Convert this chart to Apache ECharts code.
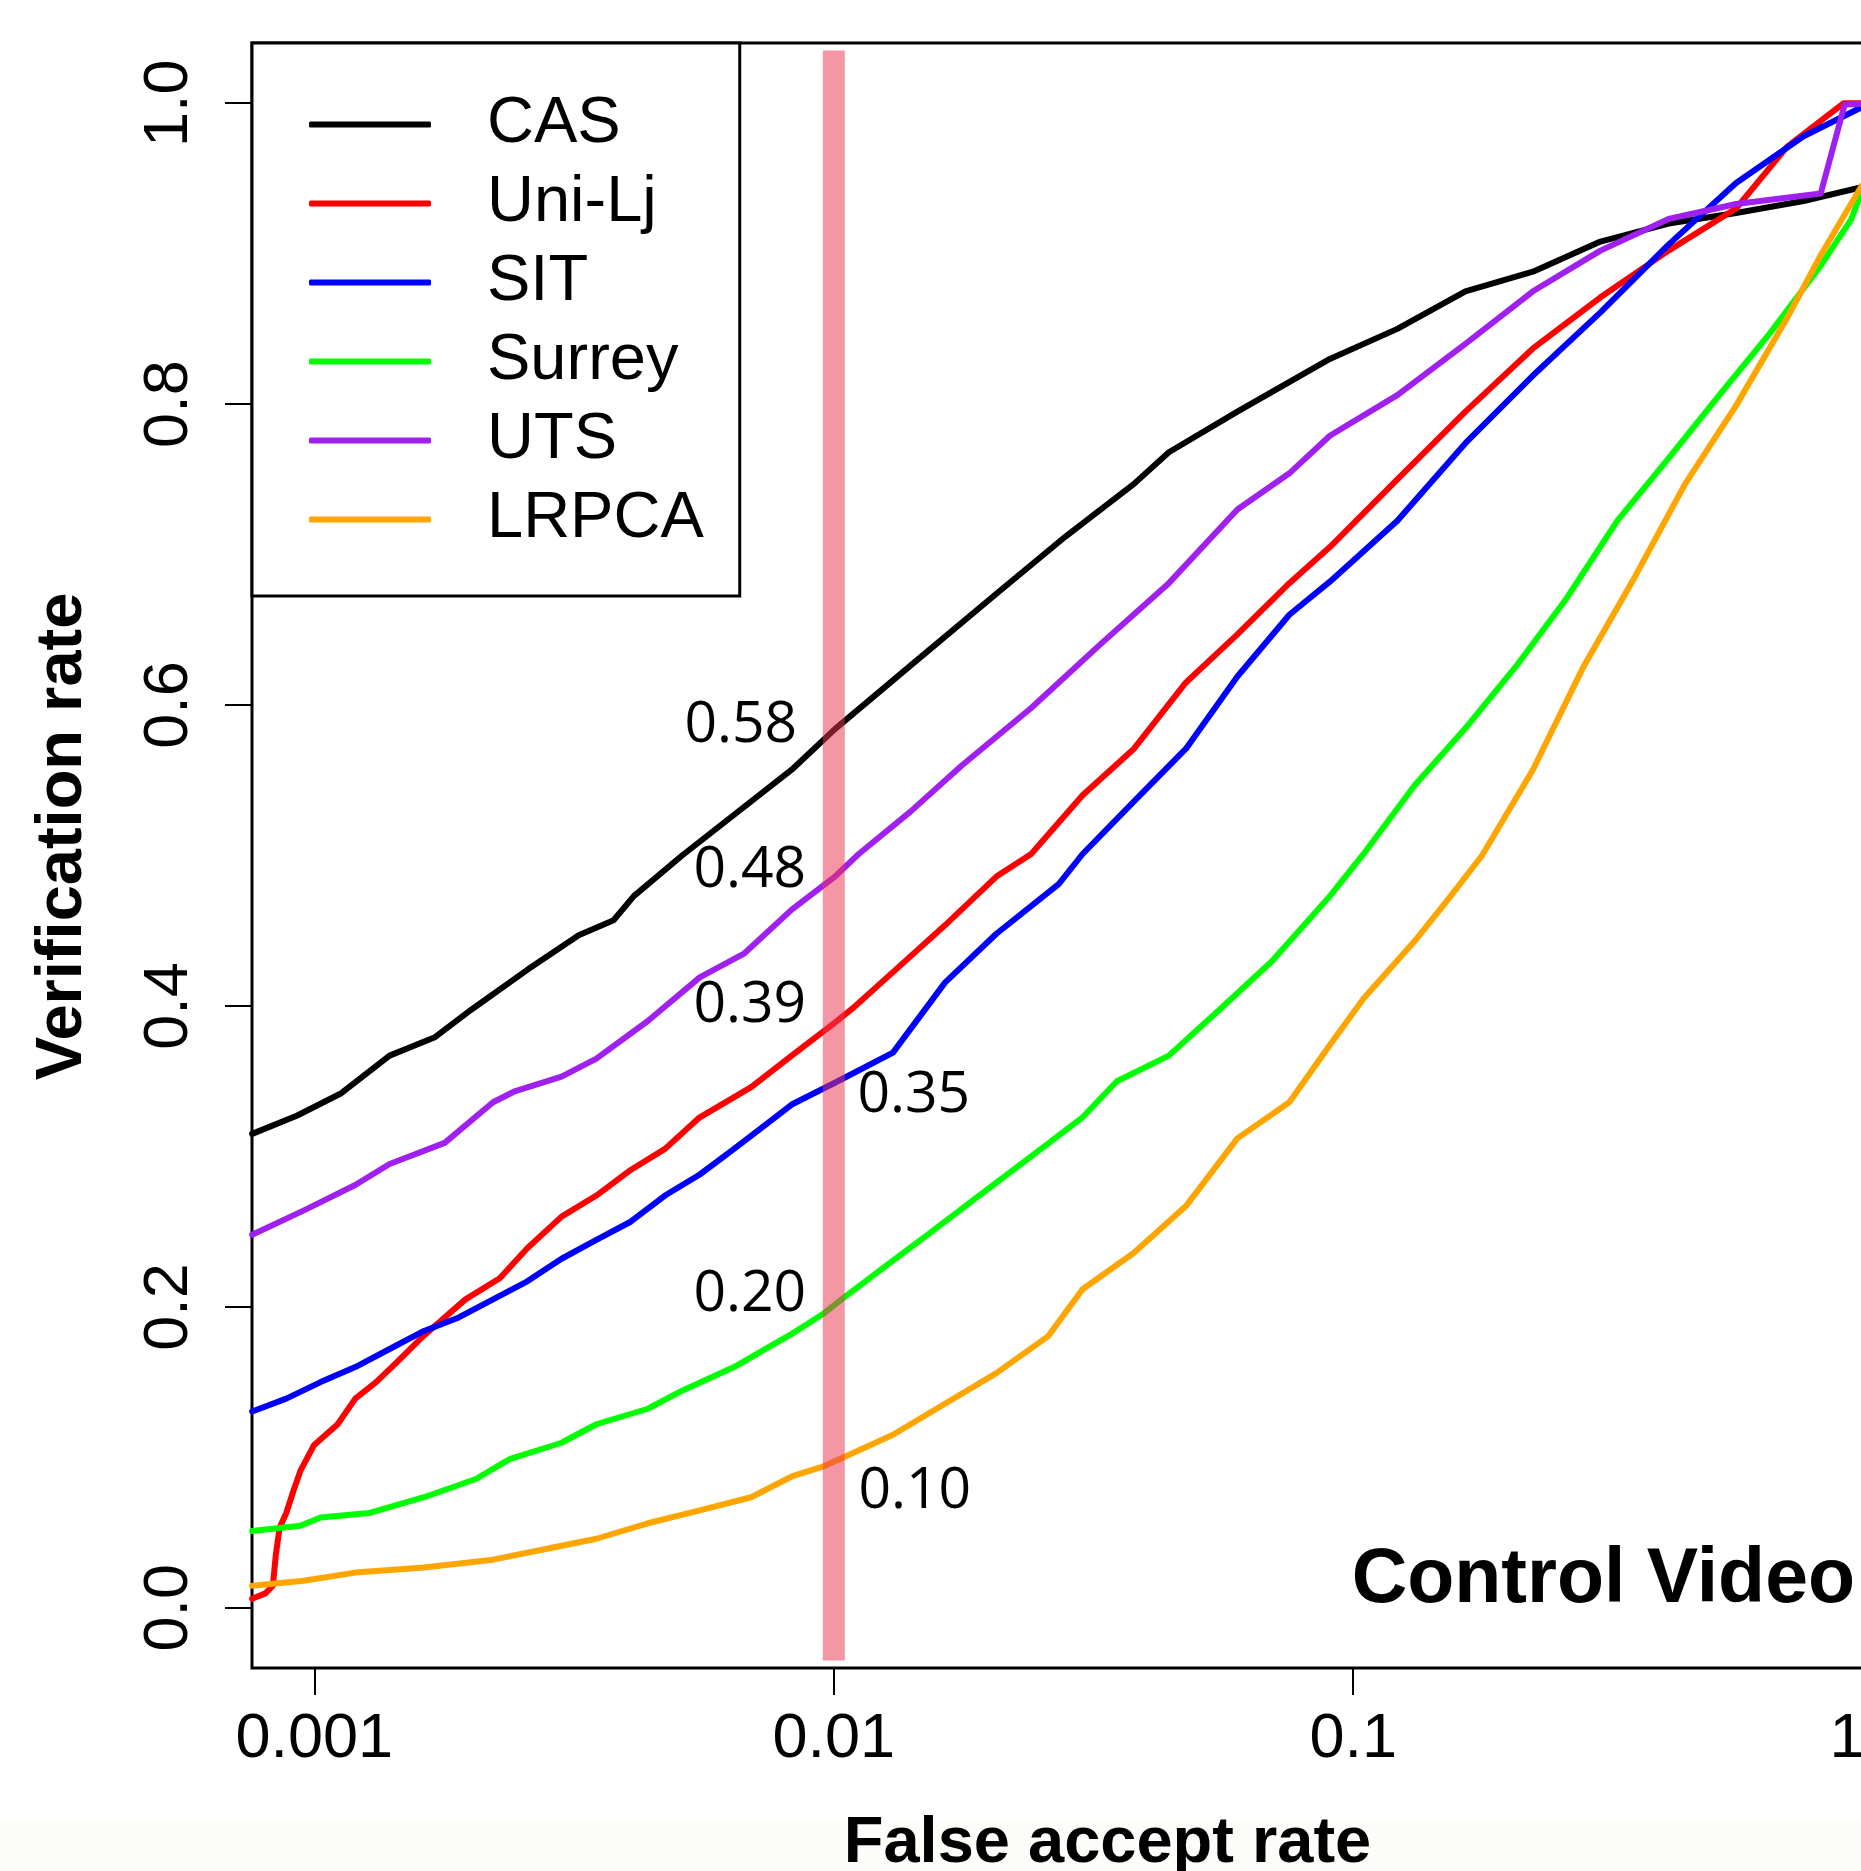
<!DOCTYPE html>
<html>
<head>
<meta charset="utf-8">
<script src="https://cdn.jsdelivr.net/npm/echarts@6/dist/echarts.min.js"></script>
<style>
  html, body { margin: 0; padding: 0; background: #fff; }
  #chart { width: 1861px; height: 1871px; }
</style>
</head>
<body>
<div id="chart"></div>
<script>
// series names / colours (R: black, red, blue, green, purple, orange)
const names = ["CAS", "Uni-Lj", "SIT", "Surrey", "UTS", "LRPCA"];
const colors = ["#000000", "#ff0000", "#0000ff", "#00ff00", "#a020f0", "#ffa500"];

// ROC points: [false accept rate, verification rate]
const cas = [[0.000759,0.315],[0.000925,0.327],[0.001127,0.342],[0.001396,0.367],[0.001702,0.379],[0.002014,0.398],[0.00257,0.424],[0.003228,0.447],[0.003767,0.457],[0.004121,0.473],[0.005105,0.500],[0.008299,0.557],[0.01005,0.584],[0.01403,0.626],[0.02056,0.674],[0.02793,0.712],[0.03784,0.747],[0.04416,0.768],[0.05984,0.795],[0.09016,0.830],[0.1216,0.850],[0.1644,0.875],[0.2218,0.888],[0.2992,0.908],[0.4046,0.920],[0.5458,0.927],[0.7362,0.935],[0.9484,0.944],[1,0.945]];
const uniLj = [[0.000759,0.006],[0.000805,0.0096],[0.000832,0.0147],[0.000843,0.035],[0.000857,0.053],[0.000883,0.063],[0.00091,0.077],[0.00094,0.091],[0.000998,0.108],[0.001109,0.122],[0.001199,0.139],[0.001315,0.150],[0.001439,0.163],[0.001626,0.181],[0.001954,0.205],[0.002275,0.219],[0.00257,0.239],[0.002992,0.260],[0.003491,0.274],[0.004064,0.291],[0.004732,0.305],[0.005521,0.326],[0.006934,0.346],[0.008299,0.367],[0.01005,0.389],[0.01084,0.398],[0.013,0.4225],[0.01637,0.4536],[0.02056,0.486],[0.02399,0.501],[0.03013,0.540],[0.03784,0.571],[0.04764,0.615],[0.05984,0.647],[0.07534,0.681],[0.09016,0.705],[0.1216,0.750],[0.1644,0.795],[0.2218,0.837],[0.2992,0.871],[0.4046,0.902],[0.5458,0.930],[0.6839,0.971],[0.857,0.997],[0.88,1.0],[1,1.0]];
const sit = [[0.000759,0.1305],[0.000883,0.139],[0.001028,0.150],[0.001199,0.160],[0.001396,0.172],[0.001626,0.184],[0.001897,0.193],[0.002208,0.205],[0.00257,0.217],[0.002992,0.232],[0.003491,0.2445],[0.004064,0.2566],[0.004732,0.274],[0.005521,0.288],[0.006427,0.305],[0.007482,0.3225],[0.008299,0.3345],[0.01005,0.349],[0.013,0.369],[0.01637,0.4155],[0.02056,0.448],[0.0271,0.481],[0.03013,0.501],[0.03784,0.536],[0.04764,0.571],[0.05984,0.619],[0.07534,0.660],[0.09016,0.682],[0.1216,0.7225],[0.1644,0.774],[0.2218,0.819],[0.2992,0.861],[0.4046,0.906],[0.5458,0.947],[0.7362,0.978],[0.9484,0.997],[1,1.0]];
const surrey = [[0.000759,0.051],[0.00094,0.0545],[0.001028,0.060],[0.001274,0.063],[0.001626,0.0735],[0.002046,0.0856],[0.002382,0.099],[0.002992,0.1097],[0.003491,0.122],[0.004385,0.1323],[0.005105,0.1443],[0.006427,0.160],[0.008299,0.182],[0.009594,0.196],[0.01035,0.205],[0.013,0.2307],[0.01517,0.248],[0.01905,0.274],[0.02399,0.300],[0.03013,0.326],[0.03508,0.350],[0.04416,0.367],[0.05546,0.398],[0.06966,0.4295],[0.09016,0.473],[0.1047,0.501],[0.1312,0.5465],[0.1644,0.5845],[0.2061,0.626],[0.2576,0.671],[0.3228,0.7227],[0.4046,0.764],[0.5058,0.8056],[0.6339,0.847],[0.7943,0.892],[0.9099,0.923],[0.9484,0.940],[1,0.95]];
const uts = [[0.000759,0.248],[0.000953,0.264],[0.001199,0.281],[0.001396,0.295],[0.001782,0.309],[0.002208,0.336],[0.002421,0.343],[0.002992,0.353],[0.003491,0.365],[0.004385,0.390],[0.005521,0.419],[0.00673,0.435],[0.008299,0.464],[0.01005,0.486],[0.01117,0.501],[0.01403,0.529],[0.01766,0.560],[0.02399,0.598],[0.03251,0.640],[0.04416,0.681],[0.05984,0.730],[0.07534,0.754],[0.09016,0.779],[0.1216,0.806],[0.1644,0.840],[0.2218,0.875],[0.2992,0.902],[0.4046,0.923],[0.5458,0.933],[0.7943,0.940],[0.8831,0.999],[1,1.0]];
const lrpca = [[0.000759,0.0147],[0.000953,0.018],[0.001199,0.0234],[0.001626,0.0268],[0.002208,0.032],[0.002773,0.0389],[0.003491,0.0459],[0.004385,0.0562],[0.005521,0.0648],[0.006934,0.0735],[0.008299,0.0873],[0.009594,0.0942],[0.01035,0.0994],[0.013,0.115],[0.01637,0.1356],[0.02056,0.156],[0.02588,0.1806],[0.03013,0.2117],[0.03784,0.236],[0.04764,0.267],[0.05984,0.312],[0.07534,0.336],[0.09016,0.374],[0.1047,0.405],[0.1312,0.443],[0.1524,0.471],[0.177,0.500],[0.2218,0.557],[0.278,0.626],[0.3483,0.685],[0.4355,0.747],[0.5458,0.799],[0.6839,0.857],[0.7943,0.899],[0.9484,0.944],[1,0.955]];
const curves = [cas, uniLj, sit, surrey, uts, lrpca];

// axis ticks
const xTicks = [0.001, 0.01, 0.1, 1];
const xLabels = [0.001, 0.01, 0.1];
const yTicks = [0, 0.2, 0.4, 0.6, 0.8, 1.0];

// highlighted FAR = 0.01 and the rates written beside it
const markFar = 0.01;
const bandSpan = [-0.035, 1.035];
const markValues = [0.58, 0.48, 0.39, 0.20, 0.35, 0.10];
const markOffsets = [[-93, -9], [-84, -15], [-84, -15], [-84, -12], [80, 15], [81, 34]];

const font = "Liberation Sans";
const chart = echarts.init(document.getElementById("chart"));

const lineSeries = names.map((n, i) => ({
  name: n,
  type: "line",
  data: curves[i],
  symbol: "none",
  showSymbol: false,
  itemStyle: { color: colors[i] },
  lineStyle: { color: colors[i], width: 6, cap: "round", join: "round" },
  z: 2,
}));

chart.setOption({
  backgroundColor: "#ffffff",
  animation: false,
  grid: {
    left: 252, top: 43, width: 1683, bottom: 203,
    outerBoundsMode: "none",
    show: true, borderColor: "#000", borderWidth: 3, backgroundColor: "transparent",
  },
  legend: {
    data: names,
    orient: "vertical",
    left: 252, top: 43,
    padding: [42, 36, 37, 57],
    icon: "roundRect",
    itemWidth: 122, itemHeight: 6, itemGap: 0,
    borderColor: "#000", borderWidth: 3, borderRadius: 0,
    backgroundColor: "#fff",
    selectedMode: false,
    textStyle: { fontSize: 65, fontFamily: font, color: "#000", lineHeight: 79, padding: [0, 0, 0, 51] },
  },
  xAxis: {
    type: "log", logBase: 10,
    min: Math.pow(10, -3.12), max: Math.pow(10, 0.12),
    axisLine: { show: false, onZero: false },
    splitLine: { show: false },
    minorTick: { show: false },
    axisTick: { show: true, customValues: xTicks, length: 27, lineStyle: { color: "#000", width: 2 } },
    axisLabel: {
      customValues: xLabels, margin: 40,
      formatter: (v) => String(v),
      fontSize: 63, fontFamily: font, color: "#000",
    },
    name: "False accept rate", nameLocation: "middle", nameGap: 144,
    nameTextStyle: { fontSize: 65, fontWeight: "bold", fontFamily: font, color: "#000", padding: [0, 0, 0, 28] },
  },
  yAxis: {
    type: "value", min: -0.04, max: 1.04,
    axisLine: { show: false, onZero: false },
    splitLine: { show: false },
    axisTick: { show: true, customValues: yTicks, length: 27, lineStyle: { color: "#000", width: 2 } },
    axisLabel: {
      customValues: yTicks, rotate: 90, margin: 51,
      formatter: (v) => v.toFixed(1),
      fontSize: 63, fontFamily: font, color: "#000",
    },
    name: "Verification rate", nameLocation: "middle", nameGap: 156,
    nameTextStyle: { fontSize: 65, fontWeight: "bold", fontFamily: font, color: "#000", padding: [0, 0, 0, 38] },
  },
  graphic: [
    { type: "rect", left: 0, top: 1820, z: -1, silent: true,
      shape: { width: 1861, height: 51 }, style: { fill: "#fcfcf8" } },
    { type: "text", silent: true, z: 5,
      style: { x: 1855, y: 1581, text: "Control Video", align: "right", verticalAlign: "middle",
               font: 'bold 77px "Liberation Sans"', fill: "#000" } },
    { type: "text", silent: true, z: 5,
      style: { x: 1847, y: 1740, text: "1", align: "center", verticalAlign: "middle",
               font: '63px "Liberation Sans"', fill: "#000" } },
  ],
  series: [
    ...lineSeries,
    {
      name: "band", type: "line", z: 3,
      data: [[markFar, bandSpan[0]], [markFar, bandSpan[1]]],
      symbol: "none",
      lineStyle: { color: "rgba(235,53,82,0.52)", width: 22, cap: "butt" },
    },
    {
      name: "rates", type: "scatter", z: 4,
      symbolSize: 0,
      itemStyle: { opacity: 1 },
      data: markValues.map((v, i) => ({ value: [markFar, v], label: { offset: markOffsets[i] } })),
      label: {
        show: true, position: "inside", opacity: 1,
        formatter: (p) => p.value[1].toFixed(2),
        fontSize: 57, fontFamily: "Open Sans", color: "#000",
      },
    },
  ],
});
</script>
</body>
</html>
